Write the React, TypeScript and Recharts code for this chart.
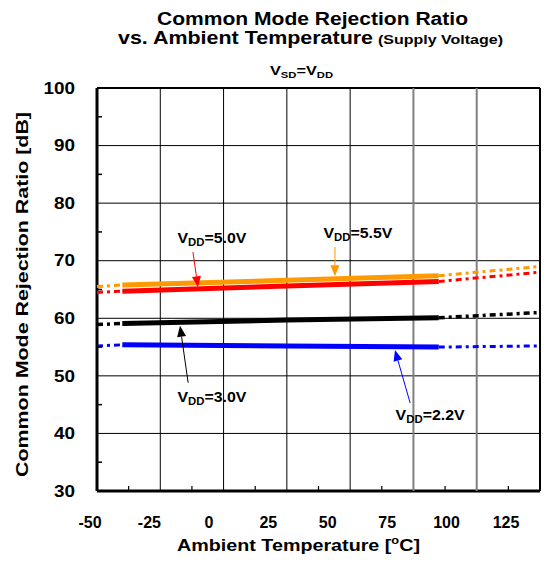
import React from 'react';
import { LineChart, Line, XAxis, YAxis, ReferenceLine, ReferenceDot } from 'recharts';

// ---------- data ----------
const TEMPS = [-50, -40, 25, 85, 125];
const VDD55_MEAS = [null, 65.8, 66.6, 67.4, null];
const VDD55_EXT = [65.5, 65.8, null, 67.4, 69.0];
const VDD50_MEAS = [null, 64.7, 65.6, 66.4, null];
const VDD50_EXT = [64.5, 64.7, null, 66.4, 68.0];
const VDD30_MEAS = [null, 59.1, 59.7, 60.1, null];
const VDD30_EXT = [58.9, 59.1, null, 60.1, 61.0];
const VDD22_MEAS = [null, 55.4, 55.2, 55.0, null];
const VDD22_EXT = [55.2, 55.4, null, 55.0, 55.2];

const X_TICKS = [-50, -25, 0, 25, 50, 75, 100, 125];
const Y_TICKS = [30, 40, 50, 60, 70, 80, 90, 100];
const X_MINOR = [-37.5, -12.5, 12.5, 37.5, 62.5, 87.5, 112.5];
const Y_MINOR = [35, 45, 55, 65, 75, 85, 95];
const X_GRAY_GRID = [75, 100];

// annotation texts and their anchor points (data coordinates)
const ANNOT_TEXT = ['5.0V', '5.5V', '3.0V', '2.2V'];
const ANNOT_LABEL_X = [-4.6, 53.1, -4.6, 81.6];
const ANNOT_LABEL_Y = [73.9, 74.8, 46.3, 43.2];
const ANNOT_TAIL_X = [-12.1, 44.0, -14.0, 73.7];
const ANNOT_TAIL_Y = [71.5, 72.4, 48.8, 45.3];
const ANNOT_TIP_X = [-10.1, 44.0, -17.2, 67.7];
const ANNOT_TIP_Y = [65.4, 67.3, 58.7, 54.5];

const data = TEMPS.map((t, i) => ({
  t,
  m55: VDD55_MEAS[i], e55: VDD55_EXT[i],
  m50: VDD50_MEAS[i], e50: VDD50_EXT[i],
  m30: VDD30_MEAS[i], e30: VDD30_EXT[i],
  m22: VDD22_MEAS[i], e22: VDD22_EXT[i],
}));

// ---------- styles ----------
const FONT = "'Liberation Sans', Arial, Helvetica, sans-serif";
const ORANGE = '#FF9900';
const RED = '#FF0000';
const BLACK = '#000000';
const BLUE = '#0000FF';
const ANNOT_COLORS = [RED, ORANGE, BLACK, BLUE];
const LABEL_AXIS_DOMAIN = [-47.05, 139.3];
const DASH = '6 4 3 4';

const YTick = (props: any) => {
  const { x, y, payload } = props;
  return (
    <g transform={`translate(${x},${y})`}>
      <text transform="scale(1.18,1)" textAnchor="end" dy="0.36em" fontSize={16} fontWeight="bold" fontFamily={FONT} fill="#000">
        {payload.value}
      </text>
    </g>
  );
};

const XTick = (props: any) => {
  const { x, y, payload } = props;
  return (
    <text x={x} y={y} textAnchor="middle" dy="0.72em" fontSize={16} fontWeight="bold" fontFamily={FONT} fill="#000">
      {payload.value}
    </text>
  );
};

const makeArrow = (color: string) => (p: any) => {
  const { x1, y1, x2, y2 } = p;
  const dx = x2 - x1;
  const dy = y2 - y1;
  const len = Math.sqrt(dx * dx + dy * dy) || 1;
  const ux = dx / len;
  const uy = dy / len;
  const hl = 11;
  const hw = 4.5;
  const bx = x2 - ux * hl;
  const by = y2 - uy * hl;
  const pts = `${x2},${y2} ${bx - uy * hw},${by + ux * hw} ${bx + uy * hw},${by - ux * hw}`;
  return (
    <g>
      <line x1={x1} y1={y1} x2={bx} y2={by} stroke={color} strokeWidth={1} />
      <polygon points={pts} fill={color} stroke="none" />
    </g>
  );
};

const makeAnnLabel = (val: string) => (props: any) => {
  const vb = props.viewBox || {};
  const cx = (vb.x || 0) + (vb.width || 0) / 2;
  const cy = (vb.y || 0) + (vb.height || 0) / 2;
  return (
    <text x={cx} y={cy + 5} textAnchor="middle" fontSize={14} fontWeight="bold" fontFamily={FONT} fill="#000" textLength={69} lengthAdjust="spacingAndGlyphs">
      V<tspan fontSize={10} dy={3}>DD</tspan><tspan dy={-3}>={val}</tspan>
    </text>
  );
};

const MinorTickX = (p: any) => {
  const { cx, cy } = p;
  if (cx == null || cy == null) return <g />;
  return <line x1={cx} y1={cy} x2={cx} y2={cy - 5} stroke="#000" strokeWidth={1.2} />;
};

const MinorTickY = (p: any) => {
  const { cx, cy } = p;
  if (cx == null || cy == null) return <g />;
  return <line x1={cx} y1={cy} x2={cx + 5} y2={cy} stroke="#000" strokeWidth={1.5} />;
};

export default function App() {
  return (
    <div style={{ position: 'absolute', left: 0, top: 0, width: 559, height: 570, background: '#fff' }}>
      <LineChart width={559} height={570} data={data} margin={{ top: 88, right: 19, left: 0, bottom: 0 }}>
        <XAxis xAxisId="main" dataKey="t" type="number" domain={[-50, 125]} ticks={X_TICKS} hide />
        <XAxis
          xAxisId="lab"
          dataKey="t"
          type="number"
          domain={LABEL_AXIS_DOMAIN}
          allowDataOverflow
          ticks={X_TICKS}
          interval={0}
          height={79}
          axisLine={false}
          tickLine={false}
          tickSize={0}
          tickMargin={25}
          tick={<XTick />}
        />
        <YAxis
          type="number"
          domain={[30, 100]}
          ticks={Y_TICKS}
          interval={0}
          width={97}
          axisLine={false}
          tickLine={false}
          tickSize={0}
          tickMargin={22}
          tick={<YTick />}
        />

        {/* grid */}
        {Y_TICKS.map((v) => (
          <ReferenceLine key={'gy' + v} xAxisId="main" y={v} stroke="#000" strokeWidth={v === 30 ? 3 : v === 100 ? 2 : 1} />
        ))}
        {X_TICKS.map((v) => (
          <ReferenceLine
            key={'gx' + v}
            xAxisId="main"
            x={v}
            stroke={X_GRAY_GRID.includes(v) ? '#808080' : '#000'}
            strokeWidth={v === -50 ? 3 : v === 125 || X_GRAY_GRID.includes(v) ? 2 : 1}
          />
        ))}

        {X_MINOR.map((v) => (
          <ReferenceDot key={'mx' + v} xAxisId="main" x={v} y={30} r={1} shape={MinorTickX} />
        ))}
        {Y_MINOR.map((v) => (
          <ReferenceDot key={'my' + v} xAxisId="main" x={-50} y={v} r={1} shape={MinorTickY} />
        ))}

        <Line xAxisId="main" dataKey="e55" stroke={ORANGE} strokeWidth={3} strokeDasharray={DASH} dot={false} activeDot={false} isAnimationActive={false} />
        <Line xAxisId="main" dataKey="e50" stroke={RED} strokeWidth={3} strokeDasharray={DASH} dot={false} activeDot={false} isAnimationActive={false} />
        <Line xAxisId="main" dataKey="e30" stroke={BLACK} strokeWidth={3.5} strokeDasharray={DASH} dot={false} activeDot={false} isAnimationActive={false} />
        <Line xAxisId="main" dataKey="e22" stroke={BLUE} strokeWidth={3} strokeDasharray={DASH} dot={false} activeDot={false} isAnimationActive={false} />
        <Line xAxisId="main" dataKey="m55" stroke={ORANGE} strokeWidth={5} dot={false} activeDot={false} isAnimationActive={false} />
        <Line xAxisId="main" dataKey="m50" stroke={RED} strokeWidth={5} dot={false} activeDot={false} isAnimationActive={false} />
        <Line xAxisId="main" dataKey="m30" stroke={BLACK} strokeWidth={5} dot={false} activeDot={false} isAnimationActive={false} />
        <Line xAxisId="main" dataKey="m22" stroke={BLUE} strokeWidth={5} dot={false} activeDot={false} isAnimationActive={false} />

        {ANNOT_TEXT.map((txt, i) => (
          <ReferenceLine
            key={'arr' + i}
            xAxisId="main"
            segment={[{ x: ANNOT_TAIL_X[i], y: ANNOT_TAIL_Y[i] }, { x: ANNOT_TIP_X[i], y: ANNOT_TIP_Y[i] }]}
            stroke={ANNOT_COLORS[i]}
            shape={makeArrow(ANNOT_COLORS[i])}
          />
        ))}
        {ANNOT_TEXT.map((txt, i) => (
          <ReferenceDot
            key={'lbl' + i}
            xAxisId="main"
            x={ANNOT_LABEL_X[i]}
            y={ANNOT_LABEL_Y[i]}
            r={0}
            fill="none"
            stroke="none"
            label={{ content: makeAnnLabel(txt) }}
          />
        ))}
      </LineChart>

      <svg width={559} height={570} style={{ position: 'absolute', left: 0, top: 0, pointerEvents: 'none' }}>
        <g fontFamily={FONT} fontWeight="bold" fill="#000">
          <text x={157} y={25} fontSize={18} textLength={311} lengthAdjust="spacingAndGlyphs">Common Mode Rejection Ratio</text>
          <text x={118} y={44} fontSize={18} textLength={255} lengthAdjust="spacingAndGlyphs">vs. Ambient Temperature</text>
          <text x={378} y={44} fontSize={13} textLength={125} lengthAdjust="spacingAndGlyphs">(Supply Voltage)</text>
          <text x={270} y={75} fontSize={13} textLength={63} lengthAdjust="spacingAndGlyphs">
            V<tspan fontSize={9} dy={3}>SD</tspan><tspan dy={-3}>=V</tspan><tspan fontSize={9} dy={3}>DD</tspan>
          </text>
          <text x={177} y={551} fontSize={17} textLength={243} lengthAdjust="spacingAndGlyphs">
            Ambient Temperature [<tspan fontSize={11} dy={-7}>o</tspan><tspan dy={7}>C]</tspan>
          </text>
          <text transform="translate(28,294.5) rotate(-90)" textAnchor="middle" fontSize={17} textLength={365} lengthAdjust="spacingAndGlyphs">
            Common Mode Rejection Ratio [dB]
          </text>
        </g>
      </svg>
    </div>
  );
}
